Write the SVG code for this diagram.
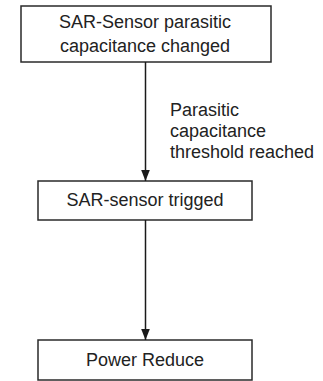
<svg xmlns="http://www.w3.org/2000/svg" width="323" height="381" viewBox="0 0 323 381">
<defs>
<marker id="arr" markerWidth="11" markerHeight="14" refX="14" refY="5.5" orient="auto" markerUnits="userSpaceOnUse" viewBox="0 0 14 11">
<path d="M0,0 L14,5.5 L0,11 Z" fill="#1a1a1a"/>
</marker>
<style>
.box{fill:#ffffff;stroke:#2a2a2a;stroke-width:1.5}
.t{font-family:"Liberation Sans",Arial,sans-serif;font-size:18px;fill:#222222}
.c{text-anchor:middle}
.edge{stroke:#1a1a1a;stroke-width:1.5;fill:none}
</style>
</defs>
<rect width="323" height="381" fill="#ffffff"/>
<g id="node1">
<rect class="box" x="21" y="6" width="250" height="56"/>
<text class="t c" x="145" y="28">SAR-Sensor parasitic</text>
<text class="t c" x="145" y="52">capacitance changed</text>
</g>
<g id="node2">
<rect class="box" x="38" y="181" width="214" height="39"/>
<text class="t c" x="145" y="206">SAR-sensor trigged</text>
</g>
<g id="node3">
<rect class="box" x="38" y="340" width="214" height="40"/>
<text class="t c" x="145" y="366">Power Reduce</text>
</g>
<g id="connectors">
<line class="edge" x1="145.5" y1="62" x2="145.5" y2="181" marker-end="url(#arr)"/>
<line class="edge" x1="145.5" y1="220" x2="145.5" y2="340" marker-end="url(#arr)"/>
<text class="t" x="170" y="116">Parasitic</text>
<text class="t" x="170" y="137">capacitance</text>
<text class="t" x="170" y="158">threshold reached</text>
</g>
</svg>
